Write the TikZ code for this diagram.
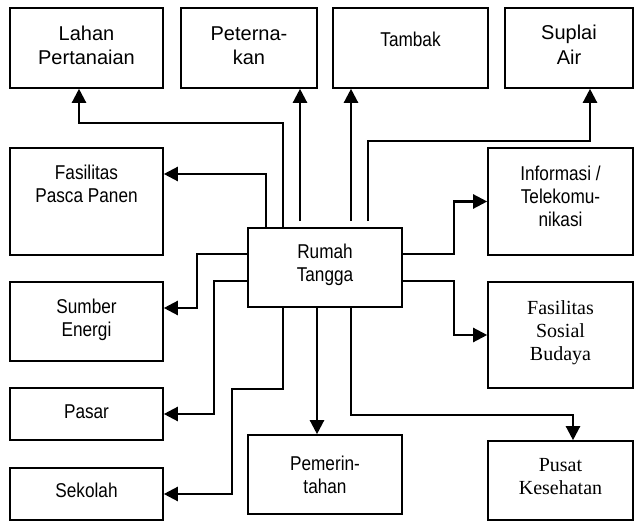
\documentclass[tikz,border=0pt]{standalone}
\usepackage{fontspec}
\usetikzlibrary{arrows.meta}

\newfontfamily\arialfont{Liberation Sans}
\newfontfamily\narrowfont[FakeStretch=0.86]{Liberation Sans}
\newfontfamily\timesfont{Liberation Serif}

\begin{document}
\begin{tikzpicture}[
  x=1pt, y=-1pt,
  box/.style={rectangle, draw=black, line width=1.6pt, align=center, inner sep=0pt},
  arial/.style={font=\arialfont\fontsize{20}{24.5}\selectfont},
  narrow/.style={font=\narrowfont\fontsize{20}{23}\selectfont},
  roman/.style={font=\timesfont\fontsize{20}{23}\selectfont},
  arrow/.style={-{Triangle[length=14pt, width=14pt]}, line width=2.3pt}
]
\useasboundingbox (0,0) rectangle (635,521);

% Top row
\node[box, arial, minimum width=153, minimum height=80, text depth=5pt] (lahan) at (86.5,48) {Lahan\\Pertanaian};
\node[box, arial, minimum width=136, minimum height=80, text depth=5pt] (peternakan) at (249,48) {Peterna-\\kan};
\node[box, narrow, minimum width=155, minimum height=80, text depth=17pt] (tambak) at (410.5,48) {Tambak};
\node[box, arial, minimum width=128, minimum height=80, text depth=6pt] (suplai) at (569,48) {Suplai\\Air};

% Left column
\node[box, narrow, minimum width=153, minimum height=107, text depth=34.5pt] (fpp) at (86.5,201.5) {Fasilitas\\Pasca Panen};
\node[box, narrow, minimum width=153, minimum height=79, text depth=7pt] (sumber) at (86.5,321.5) {Sumber\\Energi};
\node[box, narrow, minimum width=153, minimum height=52, text depth=4.5pt] (pasar) at (86.5,414) {Pasar};
\node[box, narrow, minimum width=153, minimum height=52, text depth=6.5pt] (sekolah) at (86.5,494) {Sekolah};

% Centre
\node[box, narrow, minimum width=154, minimum height=79, text depth=9pt] (rumah) at (325,267.5) {Rumah\\Tangga};
\node[box, narrow, minimum width=154, minimum height=79, text depth=0pt] (pemerintahan) at (325,474.5) {Pemerin-\\tahan};

% Right column
\node[box, narrow, minimum width=145, minimum height=107, text depth=9.5pt] (info) at (560.5,201.5) {Informasi /\\Telekomu-\\nikasi};
\node[box, roman, minimum width=145, minimum height=106, text depth=9.7pt] (fsb) at (560.5,335) {Fasilitas\\Sosial\\Budaya};
\node[box, roman, minimum width=145, minimum height=79, text depth=7.7pt] (pusat) at (560.5,480.5) {Pusat\\Kesehatan};

% Upward links
\draw[arrow] ([xshift=-42pt]rumah.north) -- ++(0,-104) -| ([xshift=-7.5pt]lahan.south);
\draw[arrow, shorten <=6pt] ([xshift=-25pt]rumah.north) -- ([xshift=51pt]peternakan.south);
\draw[arrow, shorten <=6pt] ([xshift=26pt]rumah.north) -- ([xshift=-59.5pt]tambak.south);
\draw[arrow, shorten <=6pt] ([xshift=43pt]rumah.north) -- ++(0,-86) -| ([xshift=21pt]suplai.south);

% Links to the left
\draw[arrow] ([xshift=-59pt]rumah.north) |- ([yshift=27.5pt]fpp.east);
\draw[arrow] ([yshift=13.5pt]rumah.west) -- ++(-50,0) |- ([yshift=13.5pt]sumber.east);
\draw[arrow] ([yshift=-13.5pt]rumah.west) -- ++(-33,0) |- (pasar.east);
\draw[arrow] ([xshift=-42pt]rumah.south) -- ++(0,81) -- ++(-51,0) |- (sekolah.east);

% Links downward and to the right
\draw[arrow] ([xshift=-8pt]rumah.south) -- ([xshift=-8pt]pemerintahan.north);
\draw[arrow] ([xshift=26pt]rumah.south) -- ++(0,107) -| ([xshift=12.5pt]pusat.north);
\draw[arrow] ([yshift=13.5pt]rumah.east) -- ++(51,0) |- (info.west);
\draw[arrow] ([yshift=-13.5pt]rumah.east) -- ++(51,0) |- (fsb.west);

\end{tikzpicture}
\end{document}
